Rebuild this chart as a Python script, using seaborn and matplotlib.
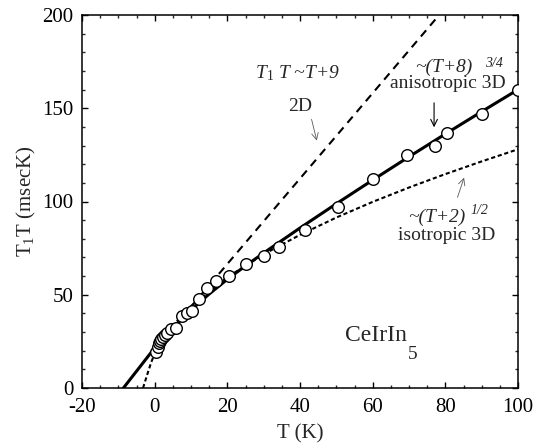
import matplotlib

matplotlib.use("Agg")
import matplotlib.pyplot as plt
import pandas as pd
import seaborn as sns
from matplotlib.ticker import MultipleLocator

# measured points, T (K) vs T1T (msec K)
T_data = [0.5, 0.8, 1.1, 1.4, 1.8, 2.3, 2.8, 3.4, 4.5, 5.8, 7.5, 8.9, 10.3, 12.2,
          14.4, 17.0, 20.5, 25.2, 30.2, 34.2, 41.4, 50.5, 60.1, 69.5, 77.2, 80.5,
          90.1, 100.0]
T1T_data = [19.3, 22.0, 24.1, 25.2, 26.2, 27.4, 28.5, 29.5, 31.6, 32.0, 38.4, 40.2,
            41.3, 47.5, 53.6, 57.2, 59.8, 66.3, 71.0, 75.6, 84.5, 97.0, 112.0, 125.0,
            129.8, 136.7, 147.0, 160.0]

# curves
aniso_T = [-8.6, -6, -3, 0, 2.5, 5, 10, 15, 20, 25, 30, 40, 50, 60, 70, 80, 90, 100]
aniso_y = [0, 6.5, 14.0, 21.5, 27.0, 32.2, 41.8, 50.4, 58.3, 65.5, 72.4, 85.8, 98.8,
           111.5, 124.0, 136.2, 148.2, 160.0]
iso_T = [-3.2, -2, -1, 0, 2, 5, 10, 15, 20, 30, 40, 50, 60, 70, 80, 90, 100]
iso_y = [0, 7.5, 13.5, 18.5, 25.0, 33.5, 43.9, 51.8, 59.4, 71.7, 82.1, 91.4, 99.8,
         107.5, 114.7, 121.5, 128.0]
lin_T = [0, 78.3]
lin_y = [20.7, 200]

sns.set_theme(style="ticks")
plt.rcParams.update({
    "font.family": ["Liberation Serif", "DejaVu Serif"],
    "mathtext.fontset": "custom",
    "mathtext.rm": "Liberation Serif",
    "mathtext.it": "Liberation Serif:italic",
    "axes.unicode_minus": False,
    "axes.linewidth": 1.1,
    "xtick.direction": "in",
    "ytick.direction": "in",
    "xtick.top": True,
    "ytick.right": True,
})

pts = pd.DataFrame({"T": T_data, "T1T": T1T_data})
aniso = pd.DataFrame({"T": aniso_T, "T1T": aniso_y})
iso = pd.DataFrame({"T": iso_T, "T1T": iso_y})
lin = pd.DataFrame({"T": lin_T, "T1T": lin_y})

fig, ax = plt.subplots(figsize=(5.35, 4.47), dpi=100)
fig.subplots_adjust(left=82 / 535, right=518 / 535, bottom=59 / 447, top=432 / 447)

sns.lineplot(data=lin, x="T", y="T1T", ax=ax, color="black", lw=1.5,
             sort=False, estimator=None, zorder=2).lines[-1].set_dashes([3.9, 2.9])
sns.lineplot(data=iso, x="T", y="T1T", ax=ax, color="black", lw=1.5,
             sort=False, estimator=None, zorder=2).lines[-1].set_dashes([2.0, 1.3])
sns.lineplot(data=aniso, x="T", y="T1T", ax=ax, color="black", lw=2.2,
             sort=False, estimator=None, zorder=3)
sns.scatterplot(data=pts, x="T", y="T1T", ax=ax, s=70, facecolor="white",
                edgecolor="black", linewidth=1.0, zorder=4)

ax.set_xlim(-20, 100)
ax.set_ylim(0, 200)
ax.xaxis.set_major_locator(MultipleLocator(20))
ax.xaxis.set_minor_locator(MultipleLocator(5))
ax.yaxis.set_major_locator(MultipleLocator(50))
ax.yaxis.set_minor_locator(MultipleLocator(10))
ax.tick_params(which="major", length=4.3, width=1.0, labelsize=15, pad=6, colors="black")
ax.tick_params(which="minor", length=2.2, width=1.0)
ax.tick_params(axis="x", which="major", pad=7.5)
for sp in ax.spines.values():
    sp.set_visible(True)
    sp.set_color("black")

ax.set_xlabel("T (K)", fontsize=15)
ax.set_ylabel(r"T$_1$T (msecK)", fontsize=15)
ax.xaxis.set_label_coords(0.5, -0.098)
ax.yaxis.set_label_coords(-0.1, 0.5)

# annotations
ax.text(39.3, 166.1, r"T$_{\mathit{1}}$ T ~T+9", style="italic", fontsize=14,
        ha="center", va="baseline")
ax.text(40.0, 148.5, "2D", fontsize=14, ha="center", va="baseline")
ax.annotate("", xy=(44.8, 131.2), xytext=(43.0, 145.5),
            arrowprops=dict(arrowstyle="->", lw=0.6, color="0.35"))

ax.text(71.7, 169.6, "~(T+8)", style="italic", fontsize=14, ha="left", va="baseline")
ax.text(90.9, 172.3, "3/4", style="italic", fontsize=10, ha="left", va="baseline")
ax.text(80.7, 160.7, "anisotropic 3D", fontsize=14, ha="center", va="baseline")
ax.annotate("", xy=(76.9, 138.3), xytext=(76.9, 154.4),
            arrowprops=dict(arrowstyle="->", lw=0.8, color="black"))

ax.text(69.7, 89.2, "~(T+2)", style="italic", fontsize=14, ha="left", va="baseline")
ax.text(86.8, 93.5, "1/2", style="italic", fontsize=10, ha="left", va="baseline")
ax.text(80.3, 79.4, "isotropic 3D", fontsize=14, ha="center", va="baseline")
ax.annotate("", xy=(85.4, 114.2), xytext=(83.1, 100.8),
            arrowprops=dict(arrowstyle="->", lw=0.6, color="0.35"))

ax.text(69.5, 25.2, "CeIrIn", fontsize=17, ha="right", va="baseline")
ax.text(69.7, 15.5, "5", fontsize=14, ha="left", va="baseline")

fig.savefig("out.png", dpi=100)
